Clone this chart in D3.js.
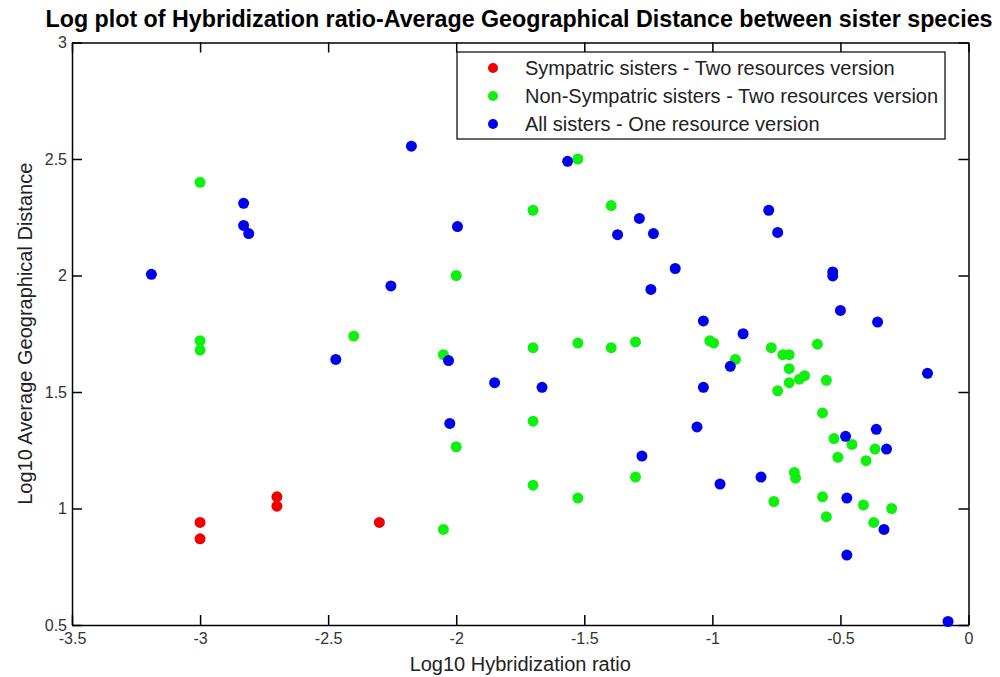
<!DOCTYPE html>
<html>
<head>
<meta charset="utf-8">
<script src="https://cdn.jsdelivr.net/npm/d3@7"></script>
<style>
  body { margin: 0; background: #fff; }
  text { font-family: Arial, "Liberation Sans", sans-serif; }
</style>
</head>
<body>
<div id="scatter"></div>
<script>
// series (log10 values)
var sympX = [-3.0, -3.0, -2.70, -2.70, -2.30];
var sympY = [0.94, 0.87, 1.05, 1.01, 0.94];

var nonSympX = [-3.0, -3.0, -3.0, -2.40, -2.0, -2.05, -2.0, -2.05, -1.525, -1.70,
  -1.395, -1.70, -1.525, -1.395, -1.30, -1.01, -0.995, -0.77, -0.725, -0.70,
  -0.59, -0.91, -0.70, -0.64, -0.66, -0.70, -0.555, -0.745, -1.70, -0.57,
  -0.525, -0.455, -0.365, -0.51, -0.40, -1.30, -1.70, -1.525, -0.68, -0.675,
  -0.76, -0.57, -0.41, -0.30, -0.555, -0.37];
var nonSympY = [2.40, 1.72, 1.68, 1.74, 2.0, 1.66, 1.265, 0.91, 2.50, 2.28,
  2.30, 1.69, 1.71, 1.69, 1.715, 1.72, 1.71, 1.69, 1.66, 1.66,
  1.705, 1.64, 1.60, 1.57, 1.555, 1.54, 1.55, 1.505, 1.375, 1.41,
  1.30, 1.275, 1.255, 1.22, 1.205, 1.135, 1.10, 1.045, 1.155, 1.13,
  1.03, 1.05, 1.015, 1.00, 0.965, 0.94];

var allX = [-3.19, -2.83, -2.83, -2.81, -2.175, -1.995, -2.255, -2.47, -2.03, -1.85,
  -2.025, -1.565, -1.285, -1.37, -1.23, -0.78, -0.745, -1.145, -1.24, -0.53,
  -0.53, -0.50, -0.355, -1.035, -0.88, -0.93, -1.665, -1.035, -0.16, -1.06,
  -0.48, -0.36, -0.32, -1.275, -0.97, -0.81, -0.475, -0.33, -0.475, -0.08];
var allY = [2.005, 2.31, 2.215, 2.18, 2.555, 2.21, 1.955, 1.64, 1.635, 1.54,
  1.365, 2.49, 2.245, 2.175, 2.18, 2.28, 2.185, 2.03, 1.94, 2.015,
  1.998, 1.85, 1.80, 1.805, 1.75, 1.61, 1.52, 1.52, 1.58, 1.35,
  1.31, 1.34, 1.255, 1.225, 1.105, 1.135, 1.045, 0.91, 0.80, 0.515];

var seriesNames = ["Sympatric sisters - Two resources version",
  "Non-Sympatric sisters - Two resources version",
  "All sisters - One resource version"];
var seriesColors = ["#f00000", "#10f010", "#0000f0"];

var xTicks = [-3.5, -3, -2.5, -2, -1.5, -1, -0.5, 0];
var yTicks = [0.5, 1, 1.5, 2, 2.5, 3];

function zip(xs, ys) {
  return xs.map(function (v, i) { return { x: v, y: ys[i] }; });
}
var series = [zip(sympX, sympY), zip(nonSympX, nonSympY), zip(allX, allY)];

var W = 1000, H = 677;
var margin = { top: 42.5, right: 31.5, bottom: 52, left: 72 },
  width = W - margin.left - margin.right,
  height = H - margin.top - margin.bottom;

var root = d3.select("#scatter")
  .append("svg")
  .attr("width", W)
  .attr("height", H);

root.append("rect").attr("width", W).attr("height", H).attr("fill", "#fff");

var svg = root.append("g")
  .attr("transform", "translate(" + margin.left + "," + margin.top + ")");

var x = d3.scaleLinear().domain([-3.5, 0]).range([0, width]);
var y = d3.scaleLinear().domain([0.5, 3]).range([height, 0]);

var fmt = function (d) { return String(d); };

// axes, ticks pointing inward like matlab
svg.append("g")
  .attr("class", "axis")
  .attr("transform", "translate(0," + height + ")")
  .call(d3.axisBottom(x).tickValues(xTicks).tickFormat(fmt).tickSize(-10).tickSizeOuter(0).tickPadding(8));
svg.append("g")
  .attr("class", "axis")
  .call(d3.axisLeft(y).tickValues(yTicks).tickFormat(fmt).tickSize(-10).tickSizeOuter(0).tickPadding(5));
svg.append("g")
  .attr("class", "axis")
  .call(d3.axisTop(x).tickValues(xTicks).tickFormat("").tickSize(-10).tickSizeOuter(0));
svg.append("g")
  .attr("class", "axis")
  .attr("transform", "translate(" + width + ",0)")
  .call(d3.axisRight(y).tickValues(yTicks).tickFormat("").tickSize(-10).tickSizeOuter(0));

svg.selectAll(".axis path, .axis line")
  .attr("stroke", "#000")
  .attr("stroke-width", 1.5);
svg.selectAll(".axis text")
  .attr("fill", "#333")
  .style("font-size", "16px");

// dots
series.forEach(function (data, i) {
  svg.append("g")
    .selectAll("circle")
    .data(data)
    .enter()
    .append("circle")
    .attr("cx", function (d) { return x(d.x); })
    .attr("cy", function (d) { return y(d.y); })
    .attr("r", 5.5)
    .style("fill", seriesColors[i]);
});

// legend
var legend = root.append("g").attr("transform", "translate(457,52)");
legend.append("rect")
  .attr("width", 488)
  .attr("height", 87)
  .attr("fill", "#fff")
  .attr("stroke", "#000")
  .attr("stroke-width", 1.2);
seriesNames.forEach(function (name, i) {
  var row = legend.append("g").attr("transform", "translate(0," + (16 + i * 28) + ")");
  row.append("circle").attr("cx", 36).attr("cy", 0).attr("r", 5).style("fill", seriesColors[i]);
  row.append("text")
    .attr("x", 68)
    .attr("dy", "0.35em")
    .style("font-size", "20px")
    .attr("fill", "#222")
    .text(name);
});

// labels
root.append("text")
  .attr("x", 519)
  .attr("y", 27)
  .attr("text-anchor", "middle")
  .attr("textLength", 947)
  .attr("lengthAdjust", "spacingAndGlyphs")
  .style("font-size", "23px")
  .style("font-weight", "bold")
  .attr("fill", "#000")
  .text("Log plot of Hybridization ratio-Average Geographical Distance between sister species");

root.append("text")
  .attr("x", margin.left + width / 2)
  .attr("y", 671)
  .attr("text-anchor", "middle")
  .style("font-size", "20px")
  .attr("fill", "#222")
  .text("Log10 Hybridization ratio");

root.append("text")
  .attr("transform", "translate(32," + (margin.top + height / 2) + ") rotate(-90)")
  .attr("text-anchor", "middle")
  .style("font-size", "20px")
  .attr("fill", "#222")
  .text("Log10 Average Geographical Distance");
</script>
</body>
</html>
